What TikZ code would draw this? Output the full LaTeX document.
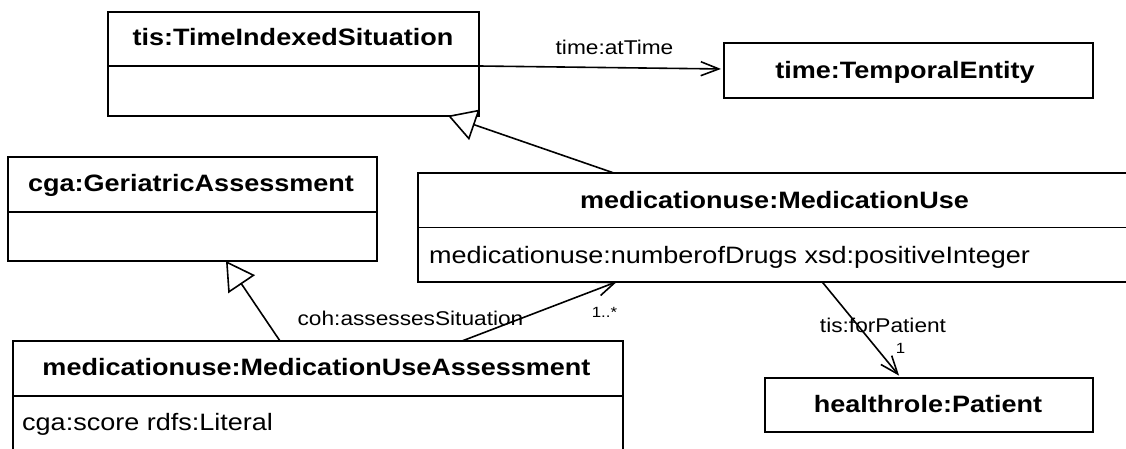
\documentclass[tikz,border=0pt]{standalone}
\usepackage{fontspec}
\usepackage{graphicx}
\setmainfont{Liberation Sans}
\usetikzlibrary{arrows.meta}
\newcommand\sx[1]{\scalebox{1.14}[1]{#1}}
\begin{document}
\begin{tikzpicture}[x=1pt,y=-1pt,
  box/.style={draw, line width=1.8pt, rectangle, anchor=north west, inner sep=0pt, outer sep=0pt},
  divider/.style={line width=1.8pt},
  title/.style={font=\fontsize{23.7}{28}\selectfont\bfseries, anchor=base, inner sep=0pt},
  attr/.style={font=\fontsize{23.7}{28}\selectfont, anchor=base west, inner sep=0pt},
  lbl/.style={font=\fontsize{19.9}{24}\selectfont, anchor=base, inner sep=0pt},
  small/.style={font=\fontsize{14.8}{18}\selectfont, anchor=base, inner sep=0pt},
  assoc/.style={line width=1.6pt, -{Straight Barb[length=18pt,width=14pt]}},
  gen/.style={line width=1.6pt, -{Triangle[fill=white,length=28pt,width=32pt]}}
]
\useasboundingbox (0,0) rectangle (1126,449);
\clip (0,0) rectangle (1126,449);

% boxes
\node[box, minimum width=371pt, minimum height=104pt] (tis) at (108,11.7) {};
\node[box, minimum width=369pt, minimum height=55pt] (te) at (724,43) {};
\node[box, minimum width=369pt, minimum height=104pt] (cga) at (8,157) {};
\node[box, minimum width=713pt, minimum height=109pt] (mu) at (418,172.7) {};
\node[box, minimum width=610pt, minimum height=140pt] (mua) at (13,341) {};
\node[box, minimum width=328pt, minimum height=54pt] (pat) at (765,378) {};

% dividers
\draw[divider] (tis.west |- 0,66) -- (tis.east |- 0,66);
\draw[divider] (cga.west |- 0,212) -- (cga.east |- 0,212);
\draw[divider] (mu.west |- 0,227.5) -- (mu.east |- 0,227.5);
\draw[divider] (mua.west |- 0,396) -- (mua.east |- 0,396);

% titles and attributes
\node[title] (tist) at (293,46) {\sx{tis:TimeIndexedSituation}};
\node[title] (tet) at (905,79) {\sx{time:TemporalEntity}};
\node[title] (cgat) at (191,192) {\sx{cga:GeriatricAssessment}};
\node[title] (mut) at (774.5,208) {\sx{medicationuse:MedicationUse}};
\node[attr] (mua1) at (429,263) {\sx{medicationuse:numberofDrugs xsd:positiveInteger}};
\node[title] (muat) at (316.5,375) {\sx{medicationuse:MedicationUseAssessment}};
\node[attr] (muaa1) at (22,430) {\sx{cga:score rdfs:Literal}};
\node[title] (patt) at (928,412) {\sx{healthrole:Patient}};

% connectors
\draw[assoc, shorten >=3pt] (tis.east |- 0,66) -- (te.west |- 0,69);
\draw[gen] (613,0 |- mu.north) -- (448,0 |- tis.south);
\draw[gen] (280,0 |- mua.north) -- (226,0 |- cga.south);
\draw[assoc] (462,0 |- mua.north) -- (617,0 |- mu.south);
\draw[assoc, shorten >=3pt] (822,0 |- mu.south) -- (901,0 |- pat.north);

% labels
\node[lbl] (l1) at (614.5,55) {\sx{time:atTime}};
\node[lbl] (l2) at (410.5,325) {\sx{coh:assessesSituation}};
\node[small] (m1) at (604.5,317) {\sx{1..*}};
\node[lbl] (l3) at (883,332) {\sx{tis:forPatient}};
\node[small] (m2) at (900.5,353) {\sx{1}};
\end{tikzpicture}
\end{document}
